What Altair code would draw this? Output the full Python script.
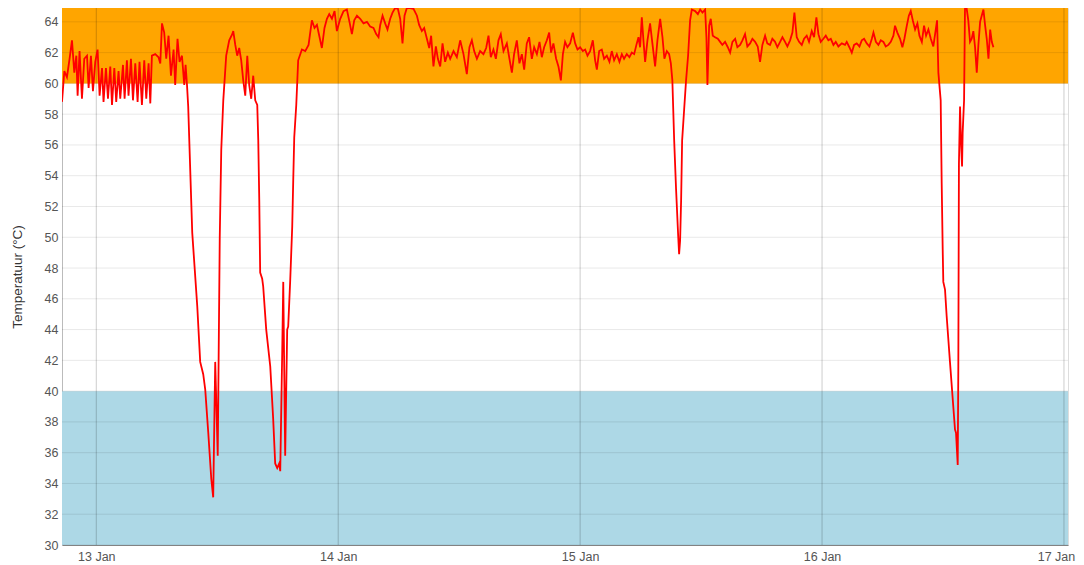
import altair as alt
import pandas as pd

# (hours after 13 Jan 00:00, temperature °C)
night_12_13 = [(-3.40, 58.8), (-3.17, 60.8), (-2.91, 60.4), (-2.65, 61.6), (-2.41, 62.8), (-2.18, 60.7),
               (-1.98, 61.8), (-1.85, 59.2), (-1.66, 62.1), (-1.42, 59.0), (-1.19, 61.6), (-0.92, 61.8),
               (-0.76, 59.7), (-0.53, 61.8), (-0.33, 59.5), (-0.10, 61.4), (0.13, 62.2), (0.33, 59.2),
               (0.57, 61.0), (0.72, 58.8), (0.96, 61.0), (1.16, 59.0), (1.39, 61.1), (1.56, 58.6),
               (1.79, 61.0), (1.98, 58.8), (2.21, 60.8), (2.38, 59.0), (2.65, 61.2), (2.81, 59.0),
               (3.04, 61.5), (3.20, 59.2), (3.44, 61.6), (3.64, 58.9), (3.87, 61.3), (4.10, 58.8),
               (4.29, 61.4), (4.53, 58.6), (4.76, 61.5), (4.96, 59.0), (5.19, 61.3), (5.36, 58.7),
               (5.52, 61.8), (5.85, 61.9), (6.18, 61.7), (6.35, 61.3), (6.52, 63.9), (6.74, 63.3),
               (6.94, 61.6), (7.17, 63.1), (7.41, 60.5), (7.67, 62.2), (7.83, 59.9), (8.06, 62.9),
               (8.26, 61.4), (8.50, 61.8), (8.73, 59.9), (8.86, 61.2), (9.00, 59.9)]

dip_13a = [(9.12, 58.5), (9.52, 50.3), (10.02, 45.5), (10.31, 41.9), (10.61, 41.1), (10.81, 40.1),
           (11.11, 37.3), (11.41, 34.3), (11.60, 33.1), (11.80, 41.9), (12.05, 35.8), (12.25, 50.0),
           (12.40, 55.7), (12.60, 58.9), (12.89, 61.8), (13.19, 62.8), (13.49, 63.2), (13.59, 63.4),
           (13.79, 62.5), (13.98, 61.8), (14.18, 62.3), (14.38, 61.5), (14.58, 60.2), (14.78, 59.2),
           (14.98, 61.8), (15.17, 59.9), (15.37, 59.0), (15.57, 60.5), (15.77, 58.9), (15.97, 58.6)]

dip_13b = [(16.07, 56.3), (16.17, 52.4), (16.26, 47.7), (16.46, 47.3), (16.56, 46.8), (16.86, 44.0),
           (17.26, 41.6), (17.55, 38.2), (17.75, 35.3), (17.95, 35.0), (18.15, 35.3), (18.25, 34.8),
           (18.45, 42.7), (18.55, 47.1), (18.74, 35.8), (18.94, 44.0), (19.04, 44.2), (19.24, 47.2),
           (19.44, 50.7), (19.54, 53.7), (19.64, 56.5), (19.84, 58.6), (20.03, 61.5)]

high_14 = [(20.40, 62.2), (20.73, 62.1), (21.06, 62.5), (21.39, 64.1), (21.65, 63.6), (21.89, 63.8),
           (22.12, 63.1), (22.38, 62.3), (22.64, 63.6), (22.88, 64.2), (23.11, 64.5), (23.38, 64.2),
           (23.64, 64.7), (23.87, 63.4), (24.20, 64.2), (24.53, 64.7), (24.86, 64.8), (25.12, 64.0),
           (25.36, 63.2), (25.59, 64.1), (25.86, 64.4), (26.18, 64.2), (26.51, 63.9), (26.85, 64.0),
           (27.17, 63.7), (27.50, 63.6), (27.77, 63.2), (28.00, 63.0), (28.17, 63.8), (28.40, 64.4),
           (28.66, 63.9), (28.89, 63.5), (29.16, 64.2), (29.39, 64.6), (29.65, 64.9), (29.92, 64.85),
           (30.15, 64.2), (30.38, 62.6), (30.58, 64.4), (30.81, 64.9), (31.14, 64.9), (31.47, 64.85),
           (31.81, 64.4), (32.03, 63.8), (32.30, 63.4), (32.53, 63.6), (32.80, 62.9), (33.03, 62.3),
           (33.22, 63.1), (33.45, 61.1), (33.69, 62.4), (33.89, 61.6), (34.12, 61.1), (34.35, 62.6),
           (34.61, 61.4), (34.88, 62.0), (35.11, 61.6), (35.44, 62.1)]

mid_14_15 = [(35.77, 61.7), (36.10, 62.8), (36.43, 61.9), (36.76, 60.6), (37.02, 62.35), (37.26, 62.8),
             (37.49, 62.1), (37.76, 61.6), (38.08, 62.1), (38.41, 61.9), (38.68, 62.3), (38.91, 63.1),
             (39.14, 61.7), (39.40, 62.2), (39.64, 61.6), (39.90, 62.8), (40.13, 63.2), (40.40, 62.1),
             (40.73, 62.6), (40.99, 61.6), (41.23, 60.7), (41.45, 61.9), (41.72, 62.8), (41.98, 61.3),
             (42.22, 61.9), (42.45, 60.9), (42.71, 62.6), (42.94, 63.0), (43.21, 61.6), (43.44, 62.35),
             (43.71, 61.9), (43.97, 62.7), (44.20, 61.7), (44.43, 62.35), (44.70, 62.8), (44.93, 63.3),
             (45.12, 62.0), (45.35, 62.6), (45.62, 61.6), (45.85, 61.1), (46.09, 60.2), (46.29, 61.9),
             (46.51, 62.7), (46.74, 62.35), (47.01, 62.6), (47.28, 63.3), (47.51, 62.6), (47.74, 62.2),
             (48.00, 62.35), (48.27, 62.1), (48.50, 62.2), (48.73, 61.8), (48.99, 62.1), (49.26, 62.8),
             (49.49, 61.5), (49.66, 60.9), (49.89, 62.1), (50.15, 62.2), (50.38, 61.6), (50.65, 61.8),
             (50.91, 61.4), (51.14, 62.1), (51.37, 61.5), (51.64, 61.9), (51.90, 61.4), (52.14, 61.9),
             (52.36, 61.6), (52.63, 61.9), (52.89, 61.7), (53.13, 62.0), (53.36, 61.9), (53.62, 62.6),
             (53.79, 63.0), (53.95, 62.35), (54.12, 64.3), (54.28, 62.8), (54.45, 61.4), (54.68, 62.8),
             (54.94, 63.9), (55.17, 62.6), (55.44, 61.1), (55.67, 62.8), (55.94, 64.2), (56.17, 63.0),
             (56.36, 61.6), (56.60, 62.1), (56.83, 61.9), (57.00, 61.3), (57.15, 60.2)]

dip_15 = [(57.33, 56.3), (57.52, 53.1), (57.72, 50.2), (57.82, 48.9), (57.92, 49.8), (58.02, 52.4),
          (58.12, 56.3), (58.32, 58.3), (58.51, 60.2), (58.71, 61.8), (58.91, 64.1)]

day_15_16 = [(59.08, 64.8), (59.41, 64.7), (59.68, 64.5), (59.91, 64.8), (60.14, 64.6), (60.40, 64.8),
             (60.53, 63.0), (60.63, 59.9), (60.80, 63.75), (60.96, 64.2), (61.16, 63.1), (61.39, 63.0),
             (61.66, 62.9), (61.89, 62.7), (62.11, 62.5), (62.38, 62.7), (62.65, 62.35), (62.88, 62.0),
             (63.11, 62.7), (63.38, 62.9), (63.60, 62.35), (63.87, 62.5), (64.10, 62.8), (64.36, 63.2),
             (64.59, 62.4), (64.86, 62.6), (65.09, 62.9), (65.36, 62.7), (65.62, 62.4), (65.85, 61.4),
             (66.08, 62.5), (66.35, 63.1), (66.57, 62.6), (66.84, 62.5), (67.07, 62.9), (67.34, 62.7),
             (67.57, 62.35), (67.84, 62.7), (68.07, 63.0), (68.33, 62.7), (68.56, 62.4), (68.83, 62.8),
             (69.06, 63.3), (69.26, 64.6), (69.49, 63.0), (69.72, 62.7), (69.99, 62.5), (70.22, 62.9),
             (70.48, 63.1), (70.71, 62.7), (70.98, 63.4), (71.21, 63.0), (71.44, 64.3), (71.64, 63.2),
             (71.87, 62.7), (72.13, 62.9), (72.37, 63.1), (72.63, 62.8), (72.87, 62.9), (73.13, 62.5),
             (73.36, 62.7), (73.62, 62.4), (73.96, 62.6), (74.28, 62.5), (74.45, 62.7), (74.71, 62.35),
             (74.95, 62.0), (75.18, 62.5), (75.44, 62.6), (75.71, 62.4), (75.94, 62.8), (76.17, 62.9),
             (76.44, 62.6), (76.70, 62.4), (76.94, 62.9), (77.10, 63.3), (77.34, 62.7), (77.59, 62.5),
             (77.83, 62.8), (78.09, 62.7), (78.32, 62.4), (78.58, 62.5), (78.82, 62.7), (79.08, 63.1),
             (79.24, 63.75), (79.47, 63.3), (79.74, 62.9), (79.97, 62.35), (80.17, 62.9), (80.41, 63.75),
             (80.61, 64.4), (80.80, 64.7), (81.00, 64.1), (81.23, 63.5), (81.46, 63.9), (81.66, 63.1),
             (81.90, 62.7), (82.12, 63.75), (82.32, 63.1), (82.55, 63.5), (82.79, 62.9), (83.04, 62.4),
             (83.28, 63.5), (83.41, 64.1), (83.54, 60.7)]

dip_16 = [(83.77, 58.9), (83.87, 53.5), (83.97, 49.2), (84.03, 47.1), (84.20, 46.6), (84.36, 44.9),
          (84.69, 41.9), (85.02, 39.0), (85.19, 37.5), (85.29, 37.3), (85.46, 35.2), (85.52, 41.6),
          (85.58, 54.8), (85.69, 58.5), (85.79, 56.1), (85.89, 54.6), (85.95, 56.8), (86.09, 58.9)]

end_16 = [(86.18, 64.85), (86.34, 64.9), (86.51, 64.1), (86.68, 62.7), (86.85, 62.9), (87.01, 63.4),
          (87.18, 62.35), (87.35, 60.7), (87.51, 62.5), (87.68, 64.0), (87.84, 64.4), (88.01, 64.8),
          (88.18, 63.75), (88.34, 62.9), (88.51, 61.6), (88.68, 63.5), (88.84, 62.7), (89.00, 62.35)]

band_low = [60, 30]
band_high = [64.9, 40]
band_color = ["#FFA500", "#ADD8E6"]

y_ticks = [30, 32, 34, 36, 38, 40, 42, 44, 46, 48, 50, 52, 54, 56, 58, 60, 62, 64]
day_numbers = [13, 14, 15, 16, 17]
day_ticks = ["2024-01-13T00:00:00", "2024-01-14T00:00:00", "2024-01-15T00:00:00",
             "2024-01-16T00:00:00", "2024-01-17T00:00:00"]

pairs = night_12_13 + dip_13a + dip_13b + high_14 + mid_14_15 + dip_15 + day_15_16 + dip_16 + end_16
base = pd.Timestamp("2024-01-13T00:00:00")
df = pd.DataFrame({
    "time": [(base + pd.Timedelta(hours=h)).strftime("%Y-%m-%dT%H:%M:%S") for h, _ in pairs],
    "temp": [t for _, t in pairs],
})
bands = pd.DataFrame({"temp": band_low, "hi": band_high, "c": band_color})
hgrid = pd.DataFrame({"temp": y_ticks})
vgrid = pd.DataFrame({"time": day_ticks})

W, H = 1006, 537
x_scale = alt.Scale(domain=[alt.DateTime(year=2024, month=1, date=12, hours=20, minutes=36),
                            alt.DateTime(year=2024, month=1, date=17, hours=0, minutes=24)])
y_scale = alt.Scale(domain=[30, 64.9], nice=False, zero=False)

x_axis = alt.Axis(values=[alt.DateTime(year=2024, month=1, date=d) for d in day_numbers],
                  format="%-d %b", title=None, grid=False, ticks=False, labelFlush=False,
                  labelPadding=5, labelFontSize=12.5, labelColor="#555555",
                  labelOffset={"condition": {"test": "datum.value > time(datetime(2024, 0, 16, 12))",
                                             "value": -8},
                               "value": 0},
                  domainColor="#888888", labelFont="Liberation Sans")
y_axis = alt.Axis(values=y_ticks, title="Temperatuur (°C)", grid=False, ticks=False,
                  labelPadding=4, labelFontSize=12.5, labelColor="#555555",
                  labelFont="Liberation Sans", titleFont="Liberation Sans",
                  titleFontSize=13.5, titleFontWeight="normal", titleColor="#333333",
                  titlePadding=20, domainColor="#bbbbbb")

band_layer = alt.Chart(bands).mark_rect().encode(
    x=alt.value(0), x2=alt.value(W),
    y=alt.Y("temp:Q", scale=y_scale, axis=y_axis),
    y2="hi:Q",
    color=alt.Color("c:N", scale=None),
)

hgrid_layer = alt.Chart(hgrid).mark_rule(color="#000000", opacity=0.09, strokeWidth=1).encode(
    y=alt.Y("temp:Q", scale=y_scale, axis=y_axis),
)

vgrid_layer = alt.Chart(vgrid).mark_rule(color="#000000", opacity=0.2, strokeWidth=1).encode(
    x=alt.X("time:T", scale=x_scale, axis=x_axis),
)

line_layer = alt.Chart(df).mark_line(color="#FF0000", strokeWidth=1.8, clip=True).encode(
    x=alt.X("time:T", scale=x_scale, axis=x_axis),
    y=alt.Y("temp:Q", scale=y_scale, axis=y_axis),
)

chart = alt.layer(band_layer, hgrid_layer, vgrid_layer, line_layer).properties(
    width=W, height=H,
    autosize=alt.AutoSizeParams(type="none"),
    padding={"left": 54, "top": 0, "right": 8, "bottom": 17},
).configure_view(strokeWidth=0).configure(font="Liberation Sans")

chart.save("out.html", embed_options={"renderer": "svg", "actions": False})
